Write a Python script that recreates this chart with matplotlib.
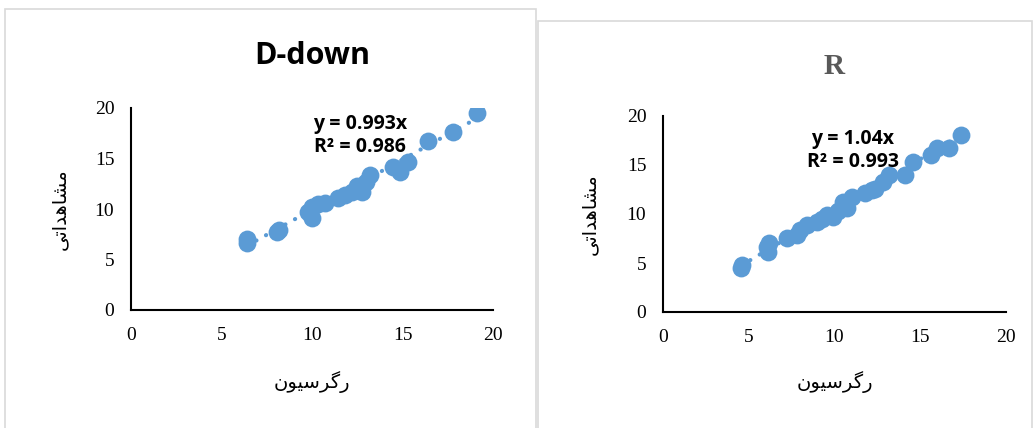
import matplotlib
matplotlib.use("Agg")
import matplotlib.pyplot as plt
import numpy as np
from matplotlib.patches import Rectangle

# panel "D-down"
dd_reg = [6.39, 6.4, 8.05, 8.2, 9.78, 9.98, 10.0, 10.33, 10.7, 11.44, 11.8, 12.19,
          12.5, 12.75, 13.0, 13.2, 14.48, 14.86, 15.3, 16.4, 17.8, 19.1]
dd_obs = [6.6, 7.0, 7.75, 7.9, 9.73, 9.08, 10.2, 10.5, 10.6, 11.1, 11.4, 11.7,
          12.3, 11.7, 12.7, 13.4, 14.2, 13.7, 14.7, 16.7, 17.65, 19.5]
dd_slope, dd_r2 = 0.993, 0.986

# panel "R"
r_reg = [4.53, 4.6, 6.05, 6.12, 6.2, 7.21, 7.8, 8.0, 8.38, 8.96, 9.27, 9.55, 9.9,
         10.2, 10.7, 10.5, 11.0, 11.8, 12.2, 12.36, 12.83, 13.2, 14.1, 14.6,
         15.6, 16.0, 16.7, 17.4]
r_obs = [4.46, 4.8, 6.66, 6.15, 7.0, 7.52, 7.86, 8.4, 8.88, 9.2, 9.5, 9.9, 9.72,
         10.3, 10.6, 11.25, 11.7, 12.1, 12.45, 12.6, 13.3, 14.0, 14.0, 15.3,
         16.0, 16.7, 16.7, 18.06]
r_slope, r_r2 = 1.04, 0.993

ticks = [0, 5, 10, 15, 20]

# Persian labels, pre-shaped (presentation forms, visual order)
xlabel_fa = "\uFEE5\uFEEE\uFBFF\uFEB3\uFEAE\uFB94\uFEAD"          # رگرسیون
ylabel_fa = "\uFBFD\uFE97\uFE8D\uFEAA\uFEEB\uFE8E\uFEB8\uFEE3"    # مشاهداتی

blue = "#5B9BD5"

fig = plt.figure(figsize=(10.33, 4.28), dpi=100)
W, H = 1033, 428

# chart area frames
fig.patches.append(Rectangle((5 / W, -0.05), 531 / W, 1.05 - 9 / H,
                             transform=fig.transFigure, fill=False,
                             edgecolor="#d9d9d9", lw=1.2))
fig.patches.append(Rectangle((538 / W, -0.05), 494 / W, 1.05 - 21 / H,
                             transform=fig.transFigure, fill=False,
                             edgecolor="#d9d9d9", lw=1.2))


def panel(rect, xs, ys, slope, r2, title, tstyle, eq_xy, xl_y, yl_x):
    ax = fig.add_axes(rect)
    ax.scatter(xs, ys, s=165, color=blue, zorder=3, linewidths=0)
    lx = np.array([min(xs), max(xs)])
    ax.plot(lx, slope * lx, color=blue, lw=3, ls=(0, (0.05, 2.6)),
            dash_capstyle="round", zorder=2)
    ax.set_xlim(0, 20)
    ax.set_ylim(0, 20)
    ax.set_xticks(ticks)
    ax.set_yticks(ticks)
    for s in ("top", "right"):
        ax.spines[s].set_visible(False)
    for s in ("left", "bottom"):
        ax.spines[s].set_linewidth(1.5)
    ax.tick_params(length=0, pad=12, labelsize=14)
    for lab in ax.get_xticklabels() + ax.get_yticklabels():
        lab.set_fontfamily("Liberation Serif")
    ax.text(eq_xy[0], eq_xy[1], f"y = {slope:g}x\nR² = {r2:g}",
            transform=ax.transAxes, ha="center", va="top",
            fontsize=14, fontweight="bold", family="Open Sans",
            linespacing=1.2, zorder=4)
    ax.set_title(title, **tstyle)
    fig.text(rect[0] + rect[2] / 2, xl_y, xlabel_fa, ha="center", va="center",
             fontsize=14, family="DejaVu Sans")
    fig.text(yl_x, rect[1] + rect[3] / 2, ylabel_fa, ha="center", va="center",
             rotation=90, fontsize=14, family="DejaVu Sans")
    return ax


panel([131 / W, 1 - 310 / H, 362 / W, 202 / H], dd_reg, dd_obs, dd_slope, dd_r2,
      "D-down", dict(fontsize=22, fontweight="bold", family="Open Sans",
                     pad=32),
      (0.633, 0.97), 1 - 382 / H, 60 / W)

panel([663 / W, 1 - 312 / H, 343 / W, 196 / H], r_reg, r_obs, r_slope, r_r2,
      "R", dict(fontsize=21, fontweight="bold", family="Liberation Serif",
                color="#595959", pad=30),
      (0.554, 0.935), 1 - 382 / H, 590 / W)

fig.savefig("out.png", dpi=100)
